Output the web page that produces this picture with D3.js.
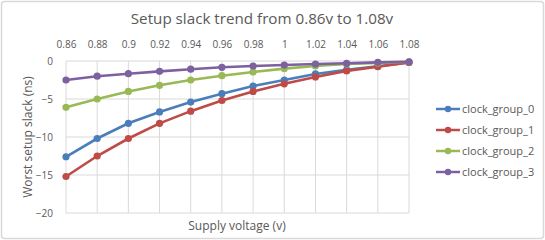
<!DOCTYPE html>
<meta charset="utf-8">
<style>
body { margin: 0; background: #fff; }
text { font-family: "Open Sans", "Noto Sans", sans-serif; fill: #595959; }
.grid line { stroke: #d9d9d9; stroke-width: 1; }
.series { fill: none; stroke-width: 2.6; }
</style>
<body>
<script src="https://d3js.org/d3.v7.min.js"></script>
<script>

const voltages = ["0.86", "0.88", "0.9", "0.92", "0.94", "0.96", "0.98", "1", "1.02", "1.04", "1.06", "1.08"];
const seriesNames = ["clock_group_0", "clock_group_1", "clock_group_2", "clock_group_3"];
const seriesColors = ["#4a7ebb", "#be4b48", "#98b954", "#7d60a0"];

const group0 = [-12.6, -10.2, -8.2, -6.7, -5.4, -4.3, -3.3, -2.5, -1.7, -1.15, -0.7, -0.2];
const group1 = [-15.2, -12.5, -10.2, -8.2, -6.6, -5.2, -4.0, -3.0, -2.1, -1.3, -0.75, -0.2];
const group2 = [-6.1, -5.0, -4.0, -3.2, -2.5, -1.93, -1.45, -1.0, -0.66, -0.4, -0.25, -0.1];
const group3 = [-2.5, -2.0, -1.67, -1.36, -1.08, -0.83, -0.66, -0.53, -0.4, -0.3, -0.18, -0.1];
const yTicks = [0, -5, -10, -15, -20];

const allSeries = [group0, group1, group2, group3];

const width = 545, height = 240;

const svg = d3.select("body").append("svg")
    .attr("width", width)
    .attr("height", height);

// outer frame
svg.append("rect")
    .attr("x", 1.5).attr("y", 1.5)
    .attr("width", width - 3).attr("height", height - 3)
    .attr("rx", 3)
    .attr("fill", "#fff")
    .attr("stroke", "#d9d9d9")
    .attr("stroke-width", 1.5);

let x = d3.scalePoint()
    .domain(voltages)
    .range([66, 409]);

let y = d3.scaleLinear()
    .domain([-20, 0])
    .range([213, 61]);

// grid
let grid = svg.append("g").attr("class", "grid");
grid.selectAll(".v").data(voltages).enter().append("line")
    .attr("x1", d => x(d)).attr("x2", d => x(d))
    .attr("y1", y(0)).attr("y2", y(-20));
grid.selectAll(".h").data(yTicks).enter().append("line")
    .attr("x1", x(voltages[0])).attr("x2", x(voltages[voltages.length - 1]))
    .attr("y1", d => y(d)).attr("y2", d => y(d));

// top category labels
let xAxis = svg.append("g")
    .attr("transform", "translate(0," + (y(0) - 8) + ")")
    .call(d3.axisTop(x).tickSize(0).tickPadding(5));
xAxis.select(".domain").remove();
xAxis.selectAll("text").style("font-size", "10px").attr("fill", "#595959");

// y labels
let yAxis = svg.append("g")
    .attr("transform", "translate(" + (x(voltages[0]) - 8) + ",0)")
    .call(d3.axisLeft(y).tickValues(yTicks).tickSize(0).tickPadding(5));
yAxis.select(".domain").remove();
yAxis.selectAll("text").style("font-size", "10px").attr("fill", "#595959");

// series
let line = d3.line()
    .x((d, i) => x(voltages[i]))
    .y(d => y(d));

allSeries.forEach(function(vals, k) {
  let g = svg.append("g");
  g.append("path")
      .attr("class", "series")
      .attr("d", line(vals))
      .attr("stroke", seriesColors[k]);
  g.selectAll("circle").data(vals).enter().append("circle")
      .attr("cx", (d, i) => x(voltages[i]))
      .attr("cy", d => y(d))
      .attr("r", 3.6)
      .attr("fill", seriesColors[k]);
});

// titles
svg.append("text")
    .attr("x", 262).attr("y", 24)
    .attr("text-anchor", "middle")
    .style("font-size", "15.2px")
    .text("Setup slack trend from 0.86v to 1.08v");

svg.append("text")
    .attr("x", 237).attr("y", 230)
    .attr("text-anchor", "middle")
    .style("font-size", "12px")
    .text("Supply voltage (v)");

svg.append("text")
    .attr("transform", "translate(32," + ((y(0) + y(-20)) / 2) + ")rotate(-90)")
    .attr("text-anchor", "middle")
    .style("font-size", "12px")
    .text("Worst setup slack (ns)");

// legend
let legend = svg.append("g");
seriesNames.forEach(function(name, k) {
  let ly = 109 + k * 21;
  legend.append("line")
      .attr("x1", 436).attr("x2", 460)
      .attr("y1", ly).attr("y2", ly)
      .attr("stroke", seriesColors[k])
      .attr("stroke-width", 2.5);
  legend.append("circle")
      .attr("cx", 448).attr("cy", ly).attr("r", 3.2)
      .attr("fill", seriesColors[k]);
  legend.append("text")
      .attr("x", 462).attr("y", ly)
      .attr("dy", "0.35em")
      .style("font-size", "11px")
      .text(name);
});

</script>
